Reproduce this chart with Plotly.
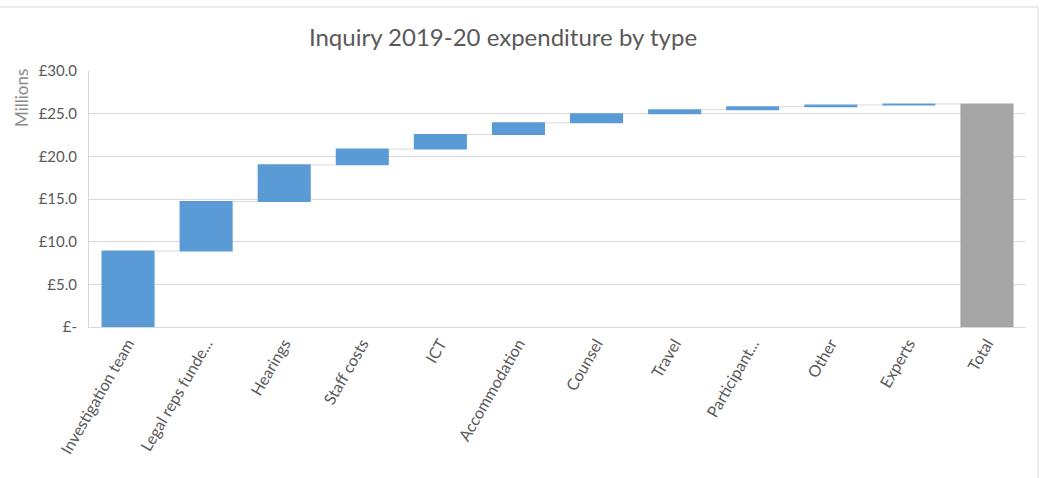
import plotly.graph_objects as go

categories = ["Investigation team", "Legal reps funde...", "Hearings", "Staff costs", "ICT",
              "Accommodation", "Counsel", "Travel", "Participant...", "Other", "Experts", "Total"]
increments = [8.9, 5.8, 4.3, 1.85, 1.7, 1.38, 1.07, 0.47, 0.35, 0.2, 0.12]
measures = ["relative"] * len(increments) + ["total"]
values = increments + [0]

tick_vals = [0, 5, 10, 15, 20, 25, 30]
tick_text = ["£-", "£5.0", "£10.0", "£15.0", "£20.0", "£25.0", "£30.0"]

FONT = "Lato, 'Open Sans', sans-serif"
GREY_TXT = "#595959"
GRID = "#D9D9D9"

fig = go.Figure(go.Waterfall(
    x=categories,
    y=values,
    measure=measures,
    increasing=dict(marker=dict(color="#5B9BD5", line=dict(width=0))),
    decreasing=dict(marker=dict(color="#ED7D31", line=dict(width=0))),
    totals=dict(marker=dict(color="#A5A5A5", line=dict(width=0))),
    connector=dict(mode="between", line=dict(color=GRID, width=1)),
    textinfo="none",
    hoverinfo="x+y",
))

W, H = 1040, 478
L, R, T, B = 89, 14, 71, 151
pw = W - L - R
ph = H - T - B

fig.update_layout(
    width=W, height=H,
    margin=dict(l=L, r=R, t=T, b=B, autoexpand=False),
    paper_bgcolor="white",
    plot_bgcolor="white",
    waterfallgap=0.32,
    showlegend=False,
    font=dict(family=FONT, color=GREY_TXT, size=15),
    title=dict(
        text="Inquiry 2019-20 expenditure by type",
        x=503 / W, xanchor="center",
        y=1 - 38 / H, yanchor="middle", yref="container",
        font=dict(family=FONT, size=24, color=GREY_TXT),
    ),
    xaxis=dict(
        tickangle=-60,
        showgrid=False,
        showline=True, linecolor=GRID, linewidth=1,
        ticks="",
        tickfont=dict(family=FONT, size=16, color=GREY_TXT),
    ),
    yaxis=dict(
        range=[0, 30],
        tickvals=tick_vals, ticktext=tick_text,
        showgrid=True, gridcolor=GRID, gridwidth=1,
        showline=True, linecolor=GRID, linewidth=1,
        zeroline=False,
        ticks="",
        ticklabelstandoff=8,
        tickfont=dict(family=FONT, size=15, color=GREY_TXT),
    ),
    annotations=[dict(
        text="Millions", xref="paper", yref="paper",
        x=(21 - L) / pw, y=(H - B - 98) / ph,
        xanchor="center", yanchor="middle",
        textangle=-90, showarrow=False,
        font=dict(family=FONT, size=17, color="#8C8C8C"),
    )],
    shapes=[
        dict(type="line", xref="paper", yref="paper",
             x0=-L / pw, x1=(1038 - L) / pw,
             y0=1 + (T - 7) / ph, y1=1 + (T - 7) / ph,
             line=dict(color=GRID, width=1)),
        dict(type="line", xref="paper", yref="paper",
             x0=(1038 - L) / pw, x1=(1038 - L) / pw,
             y0=1 + (T - 7) / ph, y1=-B / ph,
             line=dict(color=GRID, width=1)),
    ],
)

fig.write_html("out.html", config={"displayModeBar": False},
               post_script="document.body.style.margin='0';")
